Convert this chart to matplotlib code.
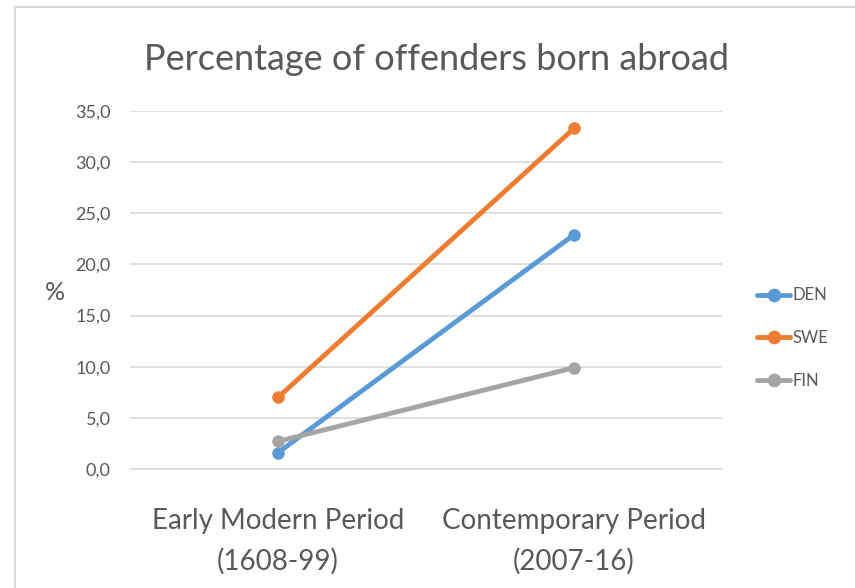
import matplotlib
matplotlib.use("Agg")
import matplotlib.pyplot as plt
from matplotlib.patches import Rectangle
from matplotlib.ticker import FuncFormatter

categories = ["Early Modern Period\n(1608-99)", "Contemporary Period\n(2007-16)"]
den = [1.6, 22.9]
swe = [7.0, 33.3]
fin = [2.7, 9.9]
series_names = ["DEN", "SWE", "FIN"]
colors = ["#5b9bd5", "#ed7d31", "#a5a5a5"]

plt.rcParams['font.family'] = ['Lato', 'DejaVu Sans']
txt = "#595959"

fig = plt.figure(figsize=(8.55, 5.88), dpi=100)
# chart border (only left and top visible in the reference)
fig.patches.append(Rectangle((15 / 855, -0.1), 1.2, 1 - 7 / 588 + 0.1,
                             transform=fig.transFigure, fill=False,
                             edgecolor="#d9d9d9", linewidth=1.5))

ax = fig.add_axes([130 / 855, 1 - 469 / 588, 592 / 855, 358 / 588])
x = range(len(categories))
for vals, name, c in zip([den, swe, fin], series_names, colors):
    ax.plot(x, vals, color=c, linewidth=3.5, marker="o", markersize=8,
            label=name, solid_capstyle="round")

ax.set_xlim(-0.5, 1.5)
ax.set_ylim(0, 35)
ax.set_yticks(range(0, 36, 5))
ax.yaxis.set_major_formatter(FuncFormatter(lambda v, p: f"{v:.1f}".replace(".", ",")))
ax.set_xticks(list(x))
ax.set_xticklabels(categories, fontsize=20, color=txt, linespacing=1.65)
ax.tick_params(axis="y", labelsize=13, labelcolor=txt, length=0, pad=14)
ax.tick_params(axis="x", length=0, pad=28)
ax.grid(axis="y", color="#d9d9d9", linewidth=1.2)
ax.set_axisbelow(True)
for s in ["top", "right", "left"]:
    ax.spines[s].set_visible(False)
ax.spines["bottom"].set_color("#d9d9d9")
ax.spines["bottom"].set_linewidth(1.2)

fig.text(55 / 855, 1 - 292 / 588, "%", fontsize=18, color=txt, ha="center", va="center")
fig.text(437 / 855, 1 - 59 / 588, "Percentage of offenders born abroad",
         fontsize=26, color=txt, ha="center", va="center")

leg = ax.legend(loc="center left", bbox_to_anchor=(742 / 855, 1 - 338 / 588),
                bbox_transform=fig.transFigure, frameon=False, fontsize=12,
                labelcolor=txt, handlelength=2.0, handletextpad=0.1,
                labelspacing=1.6, markerscale=1.1)

fig.savefig("out.png", dpi=100)
